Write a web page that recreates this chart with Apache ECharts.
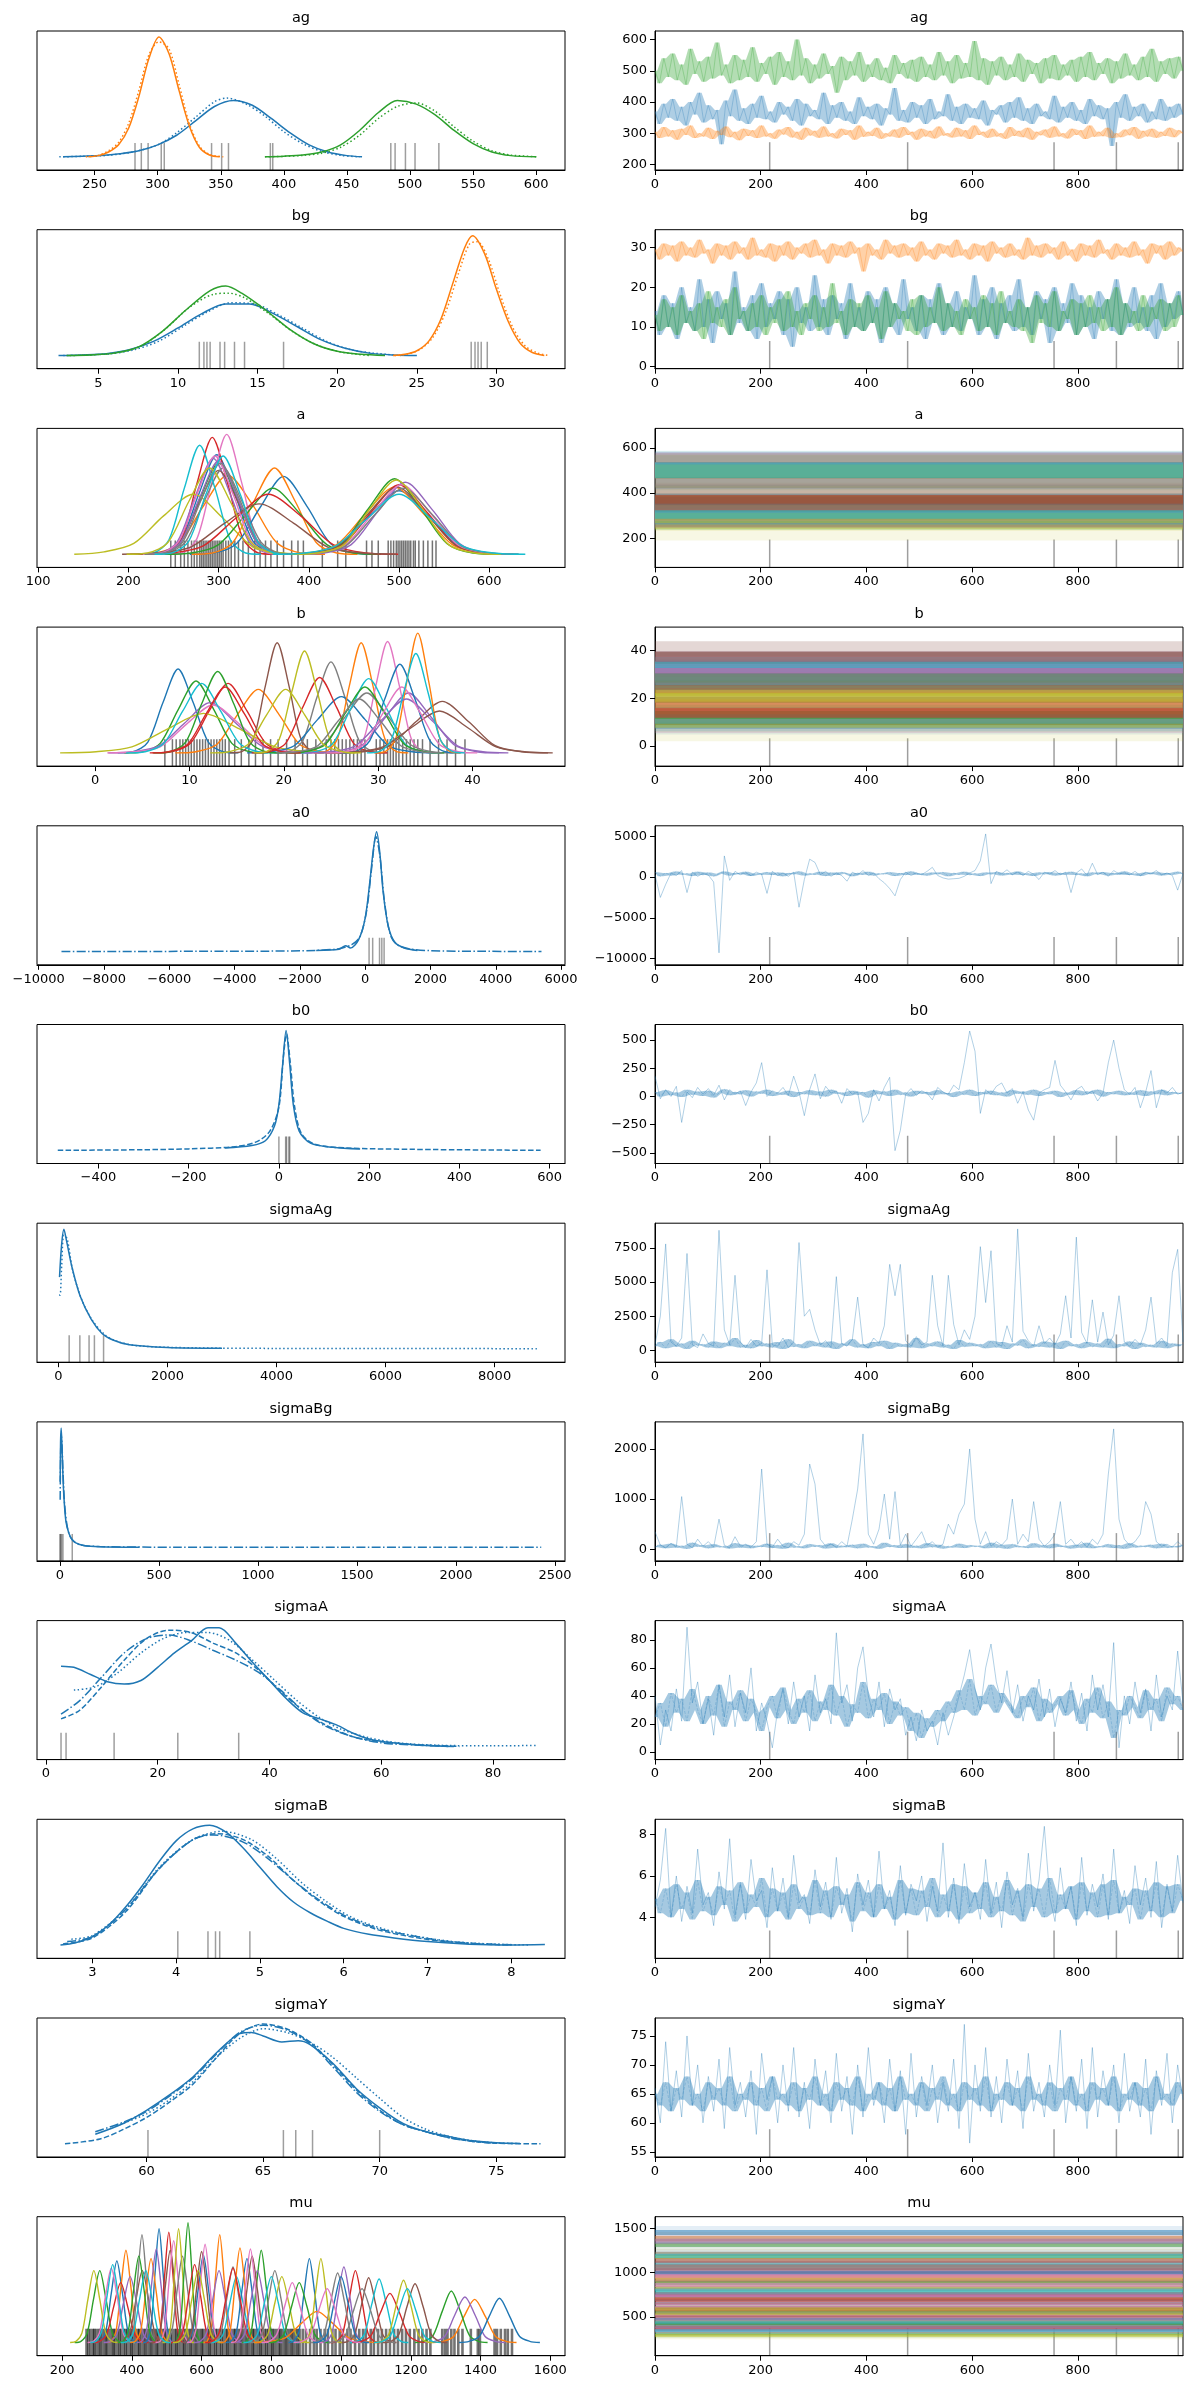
<!DOCTYPE html>
<html>
<head>
<meta charset="utf-8">
<script src="https://cdn.jsdelivr.net/npm/echarts/dist/echarts.min.js"></script>
<style>html,body{margin:0;background:#fff}#chart{width:1189px;height:2390px}</style>
</head>
<body>
<div id="chart"></div>
<script>
// variable order, one row per variable (left: density, right: trace)
const varNames = ['ag', 'bg', 'a', 'b', 'a0', 'b0', 'sigmaAg', 'sigmaBg', 'sigmaA', 'sigmaB', 'sigmaY', 'mu']

// left panels: x range and ticks
const kdeXMin = [204.3, 1.15, 98.7, -6.15, -10050, -536, -393, -116, -1.6, 2.34, 55.3, 128]
const kdeXMax = [622.9, 34.3, 684, 49.8, 6120, 634, 9291, 2550, 92.9, 8.64, 77.95, 1642]
const kdeXTicks = [
  [250, 300, 350, 400, 450, 500, 550, 600], [5, 10, 15, 20, 25, 30], [100, 200, 300, 400, 500, 600],
  [0, 10, 20, 30, 40], [-10000, -8000, -6000, -4000, -2000, 0, 2000, 4000, 6000], [-400, -200, 0, 200, 400, 600],
  [0, 2000, 4000, 6000, 8000], [0, 500, 1000, 1500, 2000, 2500], [0, 20, 40, 60, 80], [3, 4, 5, 6, 7, 8],
  [60, 65, 70, 75], [200, 400, 600, 800, 1000, 1200, 1400, 1600]
]
// right panels: y range and ticks
const traceYMin = [183, -0.5, 71, -8.4, -10770, -594, -874, -233, -5.4, 2.02, 54.1, 62]
const traceYMax = [627, 34.5, 686, 49.8, 6300, 638, 9320, 2540, 93.7, 8.74, 78.1, 1632]
const traceYTicks = [
  [200, 300, 400, 500, 600], [0, 10, 20, 30], [200, 400, 600], [0, 20, 40], [-10000, -5000, 0, 5000],
  [-500, -250, 0, 250, 500], [0, 2500, 5000, 7500], [0, 1000, 2000], [0, 20, 40, 60, 80], [4, 6, 8],
  [55, 60, 65, 70, 75], [500, 1000, 1500]
]
const traceXTicks = [0, 200, 400, 600, 800]
const drawCount = 1000
const divergentDraws = [217, 478, 755, 873, 990]

// densities of ag / bg: per group, chains of [x, density]
const agKde = [
  [[[225,0],[240,0.005],[255,0.01],[270,0.025],[285,0.05],[300,0.1],[315,0.18],[330,0.3],[345,0.42],[360,0.47],[375,0.43],[390,0.32],[405,0.2],[420,0.1],[435,0.04],[450,0.01],[462,0]],
   [[222,0],[240,0.004],[260,0.012],[280,0.04],[300,0.1],[315,0.2],[330,0.33],[345,0.46],[355,0.49],[370,0.44],[385,0.34],[400,0.21],[415,0.11],[430,0.045],[445,0.012],[460,0]]],
  [[[245,0],[253,0.01],[261,0.04],[269,0.1],[277,0.24],[285,0.5],[293,0.82],[301,1.0],[309,0.86],[317,0.55],[325,0.26],[333,0.08],[341,0.015],[349,0]],
   [[243,0],[253,0.012],[261,0.05],[269,0.12],[277,0.28],[285,0.55],[293,0.85],[301,0.96],[309,0.9],[317,0.6],[325,0.28],[333,0.09],[341,0.02],[352,0]]],
  [[[385,0],[400,0.005],[415,0.015],[430,0.04],[445,0.1],[460,0.22],[475,0.37],[490,0.47],[505,0.44],[520,0.35],[535,0.22],[550,0.11],[565,0.04],[580,0.01],[600,0]],
   [[385,0],[400,0.004],[415,0.012],[430,0.03],[445,0.08],[460,0.18],[475,0.32],[490,0.42],[505,0.45],[520,0.38],[535,0.25],[550,0.13],[565,0.05],[580,0.015],[602,0]]]
]
const bgKde = [
  [[[2.5,0],[4,0.005],[5.5,0.015],[7,0.05],[8.5,0.12],[10,0.23],[11.5,0.35],[13,0.43],[14.5,0.43],[16,0.35],[17.5,0.24],[19,0.13],[20.5,0.06],[22,0.02],[23.5,0.005],[25,0]],
   [[2.8,0],[4.3,0.005],[5.8,0.015],[7.3,0.05],[8.8,0.12],[10.3,0.24],[11.8,0.36],[13.3,0.44],[14.8,0.43],[16.3,0.34],[17.8,0.23],[19.3,0.12],[20.8,0.05],[22.3,0.02],[24,0]]],
  [[[23.5,0],[24.25,0.01],[25,0.04],[25.75,0.12],[26.5,0.3],[27.25,0.6],[28,0.9],[28.5,1.0],[29.25,0.85],[30,0.55],[30.75,0.28],[31.5,0.1],[32.25,0.025],[33,0]],
   [[23.6,0],[24.4,0.012],[25.2,0.05],[26,0.15],[26.8,0.36],[27.6,0.68],[28.3,0.93],[28.8,0.95],[29.5,0.8],[30.2,0.52],[31,0.24],[31.8,0.08],[32.6,0.02],[33.3,0]]],
  [[[3,0],[4.5,0.005],[6,0.02],[7.5,0.07],[9,0.2],[10.5,0.38],[12,0.54],[13,0.58],[14,0.52],[15.5,0.38],[17,0.22],[18.5,0.1],[20,0.035],[21.5,0.01],[23,0]],
   [[3.2,0],[4.7,0.006],[6.2,0.025],[7.7,0.08],[9.2,0.22],[10.7,0.4],[12.2,0.51],[13.2,0.52],[14.2,0.48],[15.7,0.35],[17.2,0.2],[18.7,0.09],[20.2,0.03],[22,0]]]
]
// densities of a / b / mu, one row per group: [xStart, xStep, densities...]
const aKde = [
  [218,20,0,.01,.11,.5,.83,.5,.11,.01,0],[202,27,0,.01,.09,.4,.66,.42,.1,.01,0],[216,21,0,.01,.1,.46,.76,.46,.1,.01,0],
  [225,17,0,.01,.13,.59,.975,.59,.13,.01,0],[214,20,0,.01,.1,.48,.8,.48,.1,.01,0],[212,22,0,.01,.09,.42,.7,.43,.1,.01,0],
  [243,16.5,0,.01,.13,.6,1,.6,.13,.01,0],[221,21,0,.01,.1,.44,.72,.44,.1,.01,0],[140,33,0,.02,.09,.32,.5,.3,.06,.01,0],
  [211,17,0,.01,.12,.55,.91,.55,.12,.01,0],[268,26,0,.01,.09,.39,.65,.4,.09,.01,0],[270,23,0,.01,.1,.44,.72,.44,.1,.01,0],
  [240,30,0,.01,.08,.33,.55,.34,.08,.01,0],[211,36,0,.01,.07,.3,.5,.32,.08,.01,0],[216,21,0,.01,.1,.47,.78,.47,.1,.01,0],
  [193,38,0,.01,.06,.26,.42,.26,.06,.01,0],[216,20,0,.01,.11,.5,.82,.5,.11,.01,0],[218,21,0,.01,.1,.46,.76,.46,.1,.01,0],
  [198,23,0,.01,.1,.44,.72,.44,.1,.01,0],[229,19,0,.01,.11,.5,.82,.5,.11,.01,0],[368,33,0,.01,.07,.32,.53,.32,.07,.01,0],
  [367,32,0,.01,.08,.34,.56,.34,.08,.01,0],[379,29,0,.01,.09,.38,.63,.38,.09,.01,0],[376,31,0,.01,.08,.35,.58,.35,.08,.01,0],
  [387,30,0,.01,.08,.36,.6,.37,.09,.01,0],[370,32,0,.01,.08,.34,.56,.34,.08,.01,0],[379,31,0,.01,.08,.35,.58,.35,.08,.01,0],
  [377,32,0,.01,.07,.33,.55,.33,.07,.01,0],[381,29,0,.01,.08,.38,.62,.38,.08,.01,0],[360,35,0,.01,.07,.3,.5,.3,.07,.01,0]
]
const bKde = [
  [2.4,1.6,0,.01,.09,.42,.7,.42,.09,.01,0],[8.5,2.2,0,.01,.07,.32,.53,.32,.07,.01,0],[3.1,1.9,0,.01,.08,.36,.6,.36,.08,.01,0],
  [6.1,2.0,0,.01,.08,.35,.58,.35,.08,.01,0],[1.4,2.7,0,.01,.06,.25,.42,.25,.06,.01,0],[14.3,1.25,0,.01,.12,.56,.92,.56,.12,.01,0],
  [1.3,2.8,0,.01,.05,.24,.4,.24,.05,.01,0],[19,1.5,0,.01,.1,.46,.76,.46,.1,.01,0],[-3.7,3.8,0,.01,.05,.2,.33,.2,.05,.01,0],
  [3.3,2.0,0,.01,.08,.35,.58,.35,.08,.01,0],[16.1,2.5,0,.01,.06,.28,.47,.28,.06,.01,0],[23.2,1.25,0,.01,.12,.56,.92,.56,.12,.01,0],
  [6.2,1.7,0,.01,.09,.41,.68,.41,.09,.01,0],[16.6,1.8,0,.01,.08,.38,.63,.38,.08,.01,0],[23.6,2.4,0,.01,.07,.3,.5,.3,.07,.01,0],
  [25.6,2.8,0,.01,.06,.26,.43,.26,.06,.01,0],[26,1.25,0,.01,.12,.56,.93,.56,.12,.01,0],[19.6,2.3,0,.01,.07,.3,.5,.3,.07,.01,0],
  [16.8,1.35,0,.01,.11,.51,.85,.51,.11,.01,0],[21.4,1.9,0,.01,.08,.37,.62,.37,.08,.01,0],[25.9,1.6,0,.01,.1,.45,.74,.45,.1,.01,0],
  [29.6,1.15,0,.01,.13,.6,1,.6,.13,.01,0],[20.2,2.1,0,.01,.07,.33,.55,.33,.07,.01,0],[5.8,2.0,0,.01,.07,.33,.55,.33,.07,.01,0],
  [22.2,2.7,0,.01,.06,.27,.45,.27,.06,.01,0],[24.5,3.0,0,.01,.05,.21,.35,.21,.05,.01,0],[24.5,2.0,0,.01,.07,.33,.55,.33,.07,.01,0],
  [19.2,2.2,0,.01,.06,.27,.45,.27,.06,.01,0],[12.2,2.0,0,.01,.07,.32,.53,.32,.07,.01,0],[28.8,1.3,0,.01,.11,.5,.83,.5,.11,.01,0]
]
const muKde = [
  [293,16,0,.01,.09,.41,.68,.41,.09,.01,0],[327,14,0,.01,.1,.47,.77,.47,.1,.01,0],[236,18,0,.01,.08,.36,.6,.36,.08,.01,0],
  [288,20,0,.01,.07,.3,.5,.3,.07,.01,0],[319,19,0,.01,.07,.33,.55,.33,.07,.01,0],[358,18,0,.01,.08,.36,.6,.36,.08,.01,0],
  [273,17,0,.01,.08,.38,.62,.38,.08,.01,0],[381,12,0,.01,.12,.55,.9,.55,.12,.01,0],[223,17,0,.01,.08,.36,.6,.36,.08,.01,0],
  [281,16,0,.01,.09,.39,.65,.39,.09,.01,0],[432,11.5,0,.01,.13,.58,.95,.58,.13,.01,0],[395,15,0,.01,.09,.42,.7,.42,.09,.01,0],
  [360,15,0,.01,.1,.44,.72,.44,.1,.01,0],[458,12,0,.01,.12,.56,.92,.56,.12,.01,0],[414,14,0,.01,.1,.47,.78,.47,.1,.01,0],
  [454,14,0,.01,.1,.47,.77,.47,.1,.01,0],[468,13,0,.01,.11,.52,.85,.52,.11,.01,0],[485,15,0,.01,.1,.44,.72,.44,.1,.01,0],
  [488,11.5,0,.01,.13,.58,.95,.58,.13,.01,0],[368,18,0,.01,.08,.36,.6,.36,.08,.01,0],[545,15,0,.01,.1,.44,.73,.44,.1,.01,0],
  [604,12,0,.01,.12,.55,.9,.55,.12,.01,0],[517,11,0,.01,.13,.6,1,.6,.13,.01,0],[512,17,0,.01,.09,.39,.65,.39,.09,.01,0],
  [578,18,0,.01,.08,.36,.6,.36,.08,.01,0],[544,14,0,.01,.1,.46,.76,.46,.1,.01,0],[558,13,0,.01,.11,.5,.82,.5,.11,.01,0],
  [622,17,0,.01,.09,.38,.63,.38,.09,.01,0],[518,18,0,.01,.08,.36,.6,.36,.08,.01,0],[624,19,0,.01,.07,.33,.55,.33,.07,.01,0],
  [670,15,0,.01,.09,.42,.7,.42,.09,.01,0],[654,14,0,.01,.1,.48,.79,.48,.1,.01,0],[715,14,0,.01,.1,.47,.77,.47,.1,.01,0],
  [610,20,0,.01,.08,.37,.62,.37,.08,.01,0],[688,18,0,.01,.08,.36,.6,.36,.08,.01,0],[685,15,0,.01,.1,.44,.72,.44,.1,.01,0],
  [684,14,0,.01,.1,.47,.78,.47,.1,.01,0],[738,18,0,.01,.08,.36,.6,.36,.08,.01,0],[750,20,0,.01,.07,.33,.55,.33,.07,.01,0],
  [720,20,0,.01,.07,.33,.55,.33,.07,.01,0],[849,15,0,.01,.09,.42,.7,.42,.09,.01,0],[751,45,0,.01,.04,.16,.26,.16,.04,.01,0],
  [792,22,0,.01,.07,.3,.5,.3,.07,.01,0],[969,18,0,.01,.08,.36,.6,.36,.08,.01,0],[940,17,0,.01,.08,.38,.63,.38,.08,.01,0],
  [999,20,0,.01,.07,.32,.54,.32,.07,.01,0],[772,22,0,.01,.07,.3,.5,.3,.07,.01,0],[914,19,0,.01,.08,.35,.58,.35,.08,.01,0],
  [882,15,0,.01,.09,.42,.7,.42,.09,.01,0],[1025,21,0,.01,.07,.32,.53,.32,.07,.01,0],[920,20,0,.01,.07,.33,.55,.33,.07,.01,0],
  [1263,30,0,.01,.05,.22,.36,.22,.05,.01,0],[1212,26,0,.01,.06,.26,.43,.26,.06,.01,0],[1032,27,0,.01,.06,.25,.41,.25,.06,.01,0],
  [1239,29,0,.01,.05,.23,.38,.23,.05,.01,0],[1120,23,0,.01,.07,.3,.49,.3,.07,.01,0],[864,24,0,.01,.06,.27,.45,.27,.06,.01,0],
  [964,24,0,.01,.06,.27,.45,.27,.06,.01,0],[1095,21,0,.01,.07,.31,.52,.31,.07,.01,0],[1094,24,0,.01,.06,.27,.45,.27,.06,.01,0],
  [1338,29,0,.01,.05,.22,.37,.22,.05,.01,0]
]
// densities of the scalar variables, one [x, density] list per chain
const a0Kde = [
  [[-1500,0.01],[-800,0.02],[-600,0.05],[-450,0.03],[-200,0.1],[0,0.28],[150,0.6],[250,0.85],[350,1.0],[450,0.82],[550,0.5],[700,0.22],[900,0.08],[1200,0.03],[1600,0.01]],
  [[-9300,0],[-6000,0.002],[-3000,0.004],[-1500,0.01],[-800,0.025],[-400,0.06],[-150,0.13],[50,0.35],[200,0.7],[330,0.96],[450,0.8],[600,0.4],[800,0.12],[1100,0.04],[2000,0.008],[3500,0.003],[5400,0]]
]
const b0Kde = [
  [[-120,0.02],[-60,0.04],[-30,0.08],[-10,0.2],[0,0.38],[8,0.7],[16,1.0],[24,0.72],[32,0.38],[45,0.16],[70,0.06],[120,0.025],[180,0.01]],
  [[-490,0],[-300,0.005],[-200,0.012],[-100,0.03],[-50,0.07],[-20,0.16],[0,0.36],[10,0.78],[17,0.97],[25,0.74],[35,0.36],[50,0.14],[80,0.05],[150,0.02],[300,0.008],[580,0]]
]
const sigmaAgKde = [
  [[20,0.6],[60,0.88],[100,1.0],[150,0.9],[250,0.68],[400,0.44],[600,0.25],[800,0.13],[1000,0.075],[1300,0.035],[2000,0.012],[3000,0.006]],
  [[10,0.45],[30,0.45],[60,0.7],[100,0.95],[160,0.92],[260,0.66],[420,0.42],[620,0.24],[850,0.12],[1100,0.06],[1500,0.025],[2500,0.01],[4000,0.005],[6000,0.004],[8800,0.003]]
]
const sigmaBgKde = [
  [[1,0.55],[3,0.88],[6,1.0],[10,0.85],[15,0.6],[20,0.42],[30,0.22],[45,0.12],[60,0.07],[80,0.04],[120,0.018],[200,0.008],[400,0.004]],
  [[1,0.4],[3,0.75],[6,0.95],[10,0.87],[16,0.6],[25,0.33],[40,0.15],[60,0.07],[100,0.025],[200,0.01],[600,0.004],[1200,0.003],[2430,0.003]]
]
const sigmaAKde = [
  [[2.7,0.67],[5,0.66],[8,0.6],[11,0.54],[14,0.52],[17,0.55],[20,0.66],[23,0.78],[26,0.88],[29,0.99],[31,0.99],[34,0.86],[37,0.7],[40,0.55],[43,0.4],[46,0.28],[49,0.23],[52,0.18],[55,0.11],[58,0.06],[62,0.03],[67,0.01],[73,0]],
  [[2.7,0.23],[6,0.3],[10,0.5],[14,0.72],[18,0.9],[22,0.97],[26,0.95],[30,0.86],[34,0.78],[38,0.64],[42,0.46],[46,0.3],[50,0.18],[55,0.08],[60,0.04],[66,0.015],[74,0]],
  [[5,0.47],[9,0.5],[13,0.62],[17,0.78],[21,0.9],[25,0.95],[29,0.95],[33,0.88],[37,0.72],[41,0.55],[45,0.38],[49,0.24],[53,0.14],[58,0.07],[63,0.03],[70,0.01],[80,0.005],[88,0.008]],
  [[2.7,0.27],[6,0.38],[10,0.58],[14,0.78],[18,0.9],[22,0.93],[26,0.88],[30,0.8],[34,0.72],[38,0.62],[42,0.47],[46,0.3],[50,0.17],[55,0.08],[60,0.03],[66,0.012],[72,0]]
]
const sigmaBKde = [
  [[2.62,0],[2.8,0.02],[3.0,0.07],[3.2,0.17],[3.4,0.32],[3.6,0.5],[3.8,0.7],[4.0,0.87],[4.2,0.97],[4.4,1.0],[4.6,0.94],[4.8,0.81],[5.0,0.65],[5.2,0.49],[5.4,0.36],[5.6,0.27],[5.8,0.2],[6.0,0.14],[6.3,0.09],[6.6,0.06],[7.0,0.03],[7.5,0.008],[8.0,0.002],[8.4,0.006]],
  [[2.65,0.01],[3.0,0.06],[3.4,0.28],[3.8,0.64],[4.2,0.88],[4.5,0.93],[4.8,0.88],[5.1,0.74],[5.4,0.54],[5.7,0.37],[6.0,0.24],[6.4,0.13],[6.8,0.07],[7.2,0.03],[7.6,0.01],[8.0,0.002]],
  [[2.75,0.05],[3.0,0.08],[3.4,0.3],[3.8,0.65],[4.2,0.88],[4.55,0.95],[4.9,0.88],[5.2,0.72],[5.5,0.52],[5.8,0.36],[6.1,0.23],[6.5,0.13],[6.9,0.07],[7.3,0.03],[7.8,0.008],[8.2,0.002]],
  [[2.7,0.03],[3.0,0.07],[3.4,0.3],[3.8,0.64],[4.2,0.88],[4.45,0.92],[4.8,0.86],[5.1,0.72],[5.4,0.54],[5.7,0.38],[6.0,0.25],[6.4,0.14],[6.8,0.08],[7.2,0.035],[7.6,0.012],[8.0,0.003]]
]
const sigmaYKde = [
  [[57.8,0.08],[59,0.17],[60,0.28],[61,0.41],[62,0.56],[63,0.76],[64,0.92],[64.5,0.93],[65,0.9],[65.8,0.85],[66.5,0.86],[67,0.83],[68,0.67],[69,0.46],[70,0.3],[71,0.17],[72,0.1],[73,0.06],[74,0.025],[75,0.008],[76,0.002]],
  [[56.5,0],[58,0.04],[59,0.12],[60,0.22],[61,0.35],[62,0.5],[63,0.72],[64,0.92],[65,1.0],[66,0.96],[67,0.85],[68,0.66],[69,0.45],[70,0.28],[71,0.16],[72,0.1],[73,0.05],[74,0.02],[75,0.005],[76.9,0]],
  [[58.7,0.15],[60,0.25],[61,0.37],[62,0.52],[63,0.72],[64,0.88],[65,0.96],[66,0.93],[67,0.85],[68,0.72],[69,0.55],[70,0.38],[71,0.22],[72,0.12],[73,0.06],[74,0.025],[75,0.008],[76,0.002]],
  [[57.8,0.1],[59,0.18],[60,0.27],[61,0.4],[62,0.55],[63,0.75],[64,0.93],[65,0.99],[66,0.95],[67,0.84],[68,0.64],[69,0.43],[70,0.27],[71,0.16],[72,0.1],[73,0.05],[74,0.02],[75,0.005]]
]

// values at the divergent draws (rug under each density)
const agRug = [282, 287, 292.4, 302.8, 305.2, 342.7, 350.7, 356.1, 389.3, 391.2, 484.8, 488.2, 496.4, 504, 522.9]
const bgRug = [11.34, 11.63, 11.82, 12.02, 12.64, 12.93, 13.55, 14.18, 16.63, 28.41, 28.65, 28.84, 29.04, 29.42]
const aRug = [247, 252, 258, 262, 266, 270, 273, 276, 279, 281, 283, 285, 287, 289, 291, 293, 295, 297, 299, 301, 303, 305, 308, 311, 314, 318, 322, 327, 333, 340, 346, 352, 358, 365, 372, 381, 388, 394, 415, 432, 441, 464, 470, 477, 488, 491, 494, 497, 499, 501, 503, 505, 507, 509, 511, 513, 516, 518, 522, 527, 532, 537, 541]
const bRug = [7.4, 8.2, 8.6, 9.0, 9.3, 9.6, 9.9, 10.2, 10.5, 10.8, 11.1, 11.4, 11.7, 12.0, 12.3, 12.6, 12.9, 13.2, 13.5, 13.8, 14.2, 14.8, 15.5, 16.3, 17.0, 17.8, 18.6, 19.4, 20.3, 21.2, 22.0, 22.5, 23.4, 24.5, 25.0, 25.4, 25.8, 26.2, 26.6, 27.0, 27.4, 27.8, 28.2, 28.6, 29.8, 30.2, 30.6, 31.0, 31.3, 31.6, 31.9, 32.2, 32.6, 33.0, 33.4, 33.8, 34.2, 34.7, 35.5, 36.4, 37.3, 38.2, 39.2]
const a0Rug = [120, 230, 440, 510, 580]
const b0Rug = [0, 15, 17, 22, 24]
const sigmaAgRug = [197, 393, 562, 660, 828]
const sigmaBgRug = [0, 3, 8, 15, 62]
const sigmaARug = [2.7, 3.6, 12.2, 23.6, 34.5]
const sigmaBRug = [4.02, 4.38, 4.47, 4.52, 4.88]
const sigmaYRug = [60.06, 65.87, 66.4, 67.12, 70.0]
const muRug = [270, 275, 281, 288, 292, 297, 304, 309, 314, 321, 326, 330, 337, 344, 348, 353, 360, 365, 370, 377, 382, 387, 394, 399, 403, 410, 417, 421, 426, 433, 438, 443, 450, 455, 460, 467, 472, 476, 483, 490, 494, 499, 506, 511, 516, 523, 528, 532, 539, 546, 550, 555, 562, 568, 572, 579, 584, 589, 596, 601, 605, 612, 619, 623, 628, 635, 640, 645, 652, 657, 662, 669, 674, 678, 685, 692, 696, 701, 708, 713, 718, 725, 730, 735, 742, 747, 751, 758, 765, 769, 774, 781, 786, 791, 798, 803, 807, 814, 821, 825, 830, 837, 842, 847, 854, 859, 864, 871, 876, 881, 890, 899, 911, 922, 930, 941, 953, 962, 975, 984, 996, 1005, 1018, 1027, 1040, 1052, 1063, 1071, 1085, 1094, 1106, 1117, 1129, 1140, 1152, 1163, 1175, 1186, 1197, 1210, 1222, 1233, 1245, 1256, 1290, 1298, 1305, 1316, 1325, 1336, 1348, 1372, 1392, 1398, 1440, 1447, 1458, 1470, 1478, 1490]

// trace samples (thinned), one list per group for ag / bg
const agTrace = [
  [370,330,395,350,410,340,385,325,400,360,430,335,390,345,375,265,405,355,440,340,380,330,395,350,420,345,370,335,400,360,385,340,410,325,395,355,375,345,430,330,390,350,400,340,370,330,415,355,385,345,395,325,380,360,445,340,375,335,400,350,390,330,410,345,370,355,425,340,385,330,395,350,380,345,405,325,375,360,390,335,400,350,415,340,380,330,395,355,370,345,420,335,385,350,400,340,375,330,410,355,390,345,380,260,400,350,425,340,385,355,395,335,370,345,410,340,385,350,395,360],
  [305,285,320,290,310,280,315,295,325,285,300,290,318,282,308,295,322,288,305,278,315,292,310,285,325,290,300,283,312,296,320,287,305,280,318,293,308,286,322,290,300,284,315,295,310,280,325,289,305,292,318,283,300,290,312,286,320,295,305,280,315,290,308,284,322,293,300,287,318,290,310,282,325,295,305,286,315,290,300,283,320,292,308,288,318,280,305,294,312,286,322,290,300,284,315,295,310,282,325,289,305,291,318,285,300,288,312,294,320,283,308,290,315,286,305,292,318,288,310,300],
  [500,460,540,480,555,470,520,455,570,490,530,465,545,475,590,485,520,460,550,470,535,480,575,465,525,490,545,455,560,480,530,470,600,485,540,460,520,475,555,490,515,430,545,470,530,485,560,465,520,480,540,470,510,460,550,490,525,475,535,465,545,480,520,470,560,485,530,460,550,475,525,480,595,470,540,455,530,485,545,470,520,480,555,465,535,490,525,460,540,475,550,470,520,485,535,465,545,480,560,470,525,490,540,460,530,475,555,485,520,470,545,480,570,465,530,490,540,475,545,500]
]
const bgTrace = [
  [14,8,18,10,16,7,20,11,15,9,22,10,17,6,19,12,16,8,24,11,15,9,18,7,21,10,16,12,19,8,17,5,20,11,15,9,23,10,17,8,18,12,16,7,21,10,15,9,19,11,17,6,20,10,16,8,22,12,15,9,18,7,17,11,21,8,16,10,19,9,15,12,23,8,17,10,20,7,16,11,18,9,22,10,15,8,19,12,17,6,20,9,16,11,21,8,18,10,15,7,19,12,17,9,22,8,16,10,20,11,15,9,18,7,21,10,16,12,19,13],
  [29.5,27,31,28,30.5,26.5,31.5,28,30,27.5,32,28.5,29.5,26,31,28,30.5,27,31.5,28.5,30,27,32.5,28,29.5,27.5,31,26.5,30.5,28,31.5,27,30,28.5,31,27.5,32,28,29.5,26,31,28,30.5,27.5,31.5,28.5,30,24,31,28,29.5,27,32,28.5,30.5,27.5,31,28,30,26.5,31.5,28,29.5,27,31,28.5,30.5,27.5,32,28,29.5,27,31,28,30.5,26.5,31.5,28.5,30,27.5,31,28,29.5,27,32.5,28,30.5,27.5,31,28.5,30,27,31.5,28,29.5,26.5,31,28,30.5,27.5,32,28.5,29.5,27,31,28,30,27.5,31.5,28,29.5,26,31,28.5,30.5,27,31.5,28,30,29],
  [13,9,17,10,15,8,18,11,14,9,16,7,19,11,15,10,17,8,20,12,14,9,16,10,18,8,15,11,17,9,19,10,14,8,16,12,18,9,15,10,21,11,14,8,17,10,16,9,18,11,15,7,19,10,16,12,14,9,17,8,18,10,15,11,20,9,16,10,14,8,17,12,15,9,18,10,16,8,19,11,14,10,17,9,15,6,18,11,16,10,19,9,14,12,17,8,16,10,18,11,15,9,17,10,20,8,16,11,14,9,18,10,15,12,17,9,16,10,18,13]
]
// trace samples (thinned), two chains each for the scalar variables
const a0Trace = [
  [300,-2500,-900,500,200,800,-1900,600,100,450,250,-600,-9300,2600,-400,700,300,500,200,600,350,-2000,700,200,500,100,600,-3700,-300,2200,1800,300,700,100,500,200,-500,600,300,800,200,500,-200,-700,-1400,-2300,-300,600,200,500,300,700,1200,200,-100,-250,-200,-150,100,500,800,2000,5300,-800,700,400,900,300,600,200,700,350,-300,600,400,800,300,600,-1900,500,1000,200,1700,300,600,100,800,400,500,300,700,200,600,400,800,300,500,200,-1600,400],
  [600,100,500,200,700,300,450,150,650,250,550,100,400,700,200,500,350,650,150,450,300,600,250,550,100,500,350,700,200,450,300,650,150,550,250,600,400,100,500,300,650,200,450,350,600,150,500,250,700,300,450,200,550,350,600,100,500,300,650,250,450,150,550,350,600,200,500,300,700,250,450,150,550,350,600,200,500,300,650,250,450,100,550,350,600,200,500,300,700,250,450,150,550,350,600,200,500,300,650,400]
]
const b0Trace = [
  [180,-20,60,0,90,-230,40,-10,80,20,70,10,100,-30,60,20,50,-80,40,120,300,0,50,30,80,10,180,40,-170,60,200,-20,90,30,50,-60,70,20,40,-230,-150,60,-40,80,170,-480,-300,20,70,10,50,30,-30,80,40,20,100,60,300,580,400,-150,60,20,90,120,30,70,-60,40,-120,-210,30,60,80,320,100,40,-30,60,90,20,50,-40,30,300,500,250,60,20,80,-100,40,230,-100,60,30,80,20,40],
  [40,0,55,10,35,-5,60,15,45,5,50,-10,30,65,10,40,20,55,0,45,25,60,5,35,15,50,-5,40,20,55,10,45,0,60,25,35,5,50,15,40,-10,55,20,45,5,60,15,35,0,50,25,40,10,55,20,30,-5,45,15,60,5,40,20,50,10,35,0,55,25,45,15,60,5,40,20,50,-5,35,15,55,10,45,25,60,0,40,20,50,10,35,15,55,5,45,20,60,10,40,25,30]
]
const sigmaAgTrace = [
  [400,2500,7800,600,300,900,7100,400,200,1200,500,300,8800,1500,400,5500,600,200,800,300,500,5900,400,300,900,200,600,7900,2500,3000,1500,400,700,200,5400,500,300,800,3900,400,200,900,500,1800,6300,4000,6300,700,300,1000,400,600,5500,1800,300,5500,1900,400,1500,800,2500,7600,3500,7300,500,300,1800,600,8900,1400,700,300,1800,500,900,400,1200,4000,900,8300,1300,500,3700,600,2800,400,1100,4000,600,300,800,400,1500,3900,500,900,300,5700,7400,600],
  [300,600,150,800,250,500,100,700,350,450,200,650,150,550,300,900,200,400,150,750,300,500,200,600,100,800,250,450,150,700,300,550,200,650,100,500,350,800,200,450,150,600,300,700,100,550,250,450,200,900,150,500,300,650,200,400,100,750,250,550,300,450,150,700,200,600,100,500,350,800,150,450,250,650,200,550,100,700,300,450,150,600,250,500,200,850,150,450,300,650,100,550,250,400,200,700,150,500,300,450]
]
const sigmaBgTrace = [
  [350,80,30,120,50,1050,100,30,200,60,150,40,600,80,30,250,60,100,40,150,1600,100,40,200,60,30,150,80,300,1700,1300,200,60,100,40,150,60,600,1200,2300,300,100,400,1100,200,1150,80,300,60,200,350,80,150,40,100,500,300,700,900,2000,600,100,350,60,150,80,200,1000,100,300,150,950,200,60,150,300,950,100,200,60,150,40,200,100,300,1500,2400,600,200,80,150,300,950,700,150,60,100,40,150,60],
  [40,90,20,110,30,70,10,130,50,80,20,100,40,60,15,120,30,90,20,70,45,110,25,80,10,130,35,60,20,100,50,80,15,120,30,70,40,90,20,110,35,60,10,130,45,80,25,100,30,70,20,120,40,90,15,60,35,110,25,80,50,70,20,130,30,90,10,100,40,60,25,120,35,80,20,110,45,70,15,90,30,130,20,60,40,100,25,80,10,120,35,70,45,90,20,110,30,60,40,80]
]
const sigmaATrace = [
  [40,5,30,15,45,22,89,35,50,20,38,12,48,25,55,18,42,28,60,15,35,22,3,30,45,20,50,25,40,15,55,28,38,20,85,35,48,22,60,75,40,25,50,18,45,30,38,12,25,8,30,15,22,5,28,12,25,40,55,73,45,30,60,77,50,35,58,28,48,22,40,30,52,25,45,18,38,28,50,22,42,15,55,30,48,25,78,3,40,20,50,28,45,15,55,25,40,30,72,35],
  [25,35,18,42,28,38,22,45,30,20,40,26,48,18,36,30,44,22,38,28,15,32,40,24,46,30,20,38,28,44,22,36,30,48,26,40,18,34,28,50,24,38,30,42,20,36,26,32,15,28,10,24,18,30,22,36,28,44,30,52,26,40,34,48,28,42,36,30,24,40,32,46,22,38,28,34,40,26,44,30,20,38,28,46,24,36,10,30,26,40,32,24,44,30,38,22,46,34,40,30]
]
const sigmaBTrace = [
  [4.5,5.8,8.3,4.0,6.0,3.8,5.5,4.2,7.3,4.6,5.2,3.6,6.2,4.4,7.8,4.1,5.6,3.9,6.8,4.8,5.3,3.5,6.4,4.3,5.9,4.0,7.0,4.7,5.1,3.7,6.3,4.5,5.7,3.9,6.9,4.2,5.4,3.3,6.1,4.6,5.8,4.0,7.2,4.4,5.3,3.6,6.5,4.1,5.6,4.8,6.0,3.8,5.5,4.3,7.6,4.0,5.9,3.7,6.6,4.5,5.2,3.9,6.8,4.2,5.7,3.5,6.2,4.6,5.4,4.0,7.1,4.3,5.8,8.4,5.0,3.8,6.4,4.4,5.5,3.6,6.9,4.1,5.6,4.5,6.1,3.9,7.3,4.2,5.3,3.7,6.5,4.6,5.9,4.0,6.7,3.5,5.6,4.3,7.0,4.7],
  [4.9,4.2,5.4,4.0,5.6,4.4,5.2,3.9,5.8,4.3,5.0,4.1,5.5,4.6,5.3,3.8,5.7,4.2,5.1,4.5,5.9,4.0,5.4,4.3,5.2,3.9,5.6,4.4,5.0,4.1,5.8,4.2,5.3,4.0,5.5,4.6,5.1,3.8,5.7,4.3,5.2,4.0,5.6,4.4,5.0,3.9,5.8,4.2,5.4,4.1,5.3,4.5,5.9,4.0,5.1,4.3,5.6,3.9,5.5,4.2,5.2,4.4,5.7,4.0,5.0,4.3,5.8,4.1,5.3,3.8,5.6,4.5,5.4,4.0,5.9,4.2,5.1,4.4,5.5,3.9,5.7,4.3,5.2,4.0,5.6,4.1,5.8,4.2,5.0,4.6,5.4,3.9,5.3,4.3,5.7,4.0,5.5,4.2,5.6,4.8]
]
const sigmaYTrace = [
  [66,60,74,62,69,61,75,63,70,60,68,62,71,59,73,63,67,61,69,58,72,64,68,60,70,62,73,61,67,59,71,63,69,60,72,62,68,58,70,61,73,63,67,60,71,62,69,58,72,61,68,63,70,60,67,62,71,59,77,56.5,70,62,73,61,68,60,71,63,69,59,72,62,67,61,70,63,76,60,68,62,71,59,73,61,69,63,70,60,72,62,67,61,71,58,69,63,72,60,70,64],
  [65,63,67,62,66,64,68,63,65,62,67,64,66,63,68,62,65,64,67,63,66,62,68,64,65,63,67,62,66,64,68,63,65,62,67,64,66,63,68,62,65,64,67,63,66,62,68,64,65,63,67,62,66,64,68,63,65,62,67,64,66,63,68,62,65,64,67,63,66,62,68,64,65,63,67,62,66,64,68,63,65,62,67,64,66,63,68,62,65,64,67,63,66,62,68,64,65,63,67,65]
]

const palette = ['#1f77b4', '#ff7f0e', '#2ca02c', '#d62728', '#9467bd', '#8c564b', '#e377c2', '#7f7f7f', '#bcbd22', '#17becf']
const chainDash = ['solid', [5.5, 2.4], [1.5, 2.5], [9, 2.4, 1.5, 2.4]]
const font = 'DejaVu Sans'
const leftX = 37
const rightX = 655
const boxW = 528
const boxH = 139
const rowTop = r => 31 + 198.7 * r

const chart = echarts.init(document.getElementById('chart'))
const grids = []
const xAxes = []
const yAxes = []
const series = []
const titles = []

const minusFmt = v => String(v).replace('-', '\u2212')
function axisLook(ticks) {
  return {
    axisLine: { show: true, onZero: false, lineStyle: { color: '#000', width: 1 } },
    splitLine: { show: false },
    axisTick: { show: true, customValues: ticks, length: 5, lineStyle: { color: '#000', width: 1 } },
    axisLabel: { customValues: ticks, formatter: minusFmt, color: '#000', fontSize: 13, fontFamily: font, margin: 8 }
  }
}

varNames.forEach((name, r) => {
  const top = rowTop(r)
  ;[leftX, rightX].forEach(left => {
    grids.push({ left, top, width: boxW, height: boxH, show: true, borderColor: '#000', borderWidth: 1, backgroundColor: 'transparent' })
    titles.push({
      type: 'text', x: left + boxW / 2, y: top - 13,
      style: { text: name, align: 'center', verticalAlign: 'middle', textAlign: 'center', textVerticalAlign: 'middle', fontSize: 14.5, fontFamily: font, fill: '#000' }
    })
  })
  xAxes.push({ gridIndex: 2 * r, type: 'value', min: kdeXMin[r], max: kdeXMax[r], ...axisLook(kdeXTicks[r]) })
  yAxes.push({ gridIndex: 2 * r, type: 'value', min: -0.11, max: 1.05, show: false })
  xAxes.push({ gridIndex: 2 * r + 1, type: 'value', min: 0, max: drawCount - 1, ...axisLook(traceXTicks) })
  yAxes.push({ gridIndex: 2 * r + 1, type: 'value', min: traceYMin[r], max: traceYMax[r], ...axisLook(traceYTicks[r]) })
})

function curve(gi, pts, color, dash, width) {
  return {
    type: 'line', xAxisIndex: gi, yAxisIndex: gi, data: pts, showSymbol: false, symbol: 'none',
    smooth: 0.3, silent: true, animation: false, z: 3,
    lineStyle: { color, width: width || 1.5, type: dash || 'solid' }
  }
}
const unpack = rows => rows.map(row => row.slice(2).map((y, k) => [row[0] + k * row[1], y]))

function trace(gi, vals, color, dash, opacity) {
  const step = (drawCount - 1) / (vals.length - 1)
  return {
    type: 'line', xAxisIndex: gi, yAxisIndex: gi, data: vals.map((v, i) => [i * step, v]),
    showSymbol: false, symbol: 'none', silent: true, animation: false, z: 3,
    lineStyle: { color, width: 0.7, opacity: opacity || 0.4, type: dash || 'solid' }
  }
}

// filled envelope of a thinned trace: upper edge through local maxima, lower through local minima
function band(gi, vals, color, opacity) {
  const step = (drawCount - 1) / (vals.length - 1)
  return {
    type: 'custom', xAxisIndex: gi, yAxisIndex: gi, silent: true, clip: true, animation: false, z: 2,
    data: [[0, vals[0]]],
    renderItem(params, api) {
      const upper = [api.coord([0, vals[0]])]
      const lower = [api.coord([0, vals[0]])]
      for (let i = 0; i < vals.length - 1; i++) {
        const x = (i + 0.5) * step
        upper.push(api.coord([x, Math.max(vals[i], vals[i + 1])]))
        lower.push(api.coord([x, Math.min(vals[i], vals[i + 1])]))
      }
      upper.push(api.coord([drawCount - 1, vals[vals.length - 1]]))
      return { type: 'polygon', shape: { points: upper.concat(lower.reverse()) }, style: { fill: color, opacity } }
    }
  }
}

function rug(gi, values, lo, hi, width, color) {
  return {
    type: 'custom', xAxisIndex: gi, yAxisIndex: gi, silent: true, clip: true, animation: false, z: 1,
    data: values.map(v => [v, lo]),
    renderItem(params, api) {
      const a = api.coord([api.value(0), lo])
      const b = api.coord([api.value(0), hi])
      return { type: 'line', shape: { x1: a[0], y1: a[1], x2: b[0], y2: b[1] }, style: { stroke: color, lineWidth: width } }
    }
  }
}

// trace of many groups: each group shown as the spread of its density (wide light, narrow dark)
function stripes(gi, rows) {
  return {
    type: 'custom', xAxisIndex: gi, yAxisIndex: gi, silent: true, clip: true, animation: false, z: 2,
    data: rows.map((row, i) => [row[0] + 1.5 * row[1], row[0] + 6.5 * row[1], row[0] + 3 * row[1], row[0] + 5 * row[1], i]),
    renderItem(params, api) {
      const fill = palette[api.value(4) % 10]
      const rect = (lo, hi, opacity) => {
        const a = api.coord([0, hi])
        const b = api.coord([drawCount - 1, lo])
        return { type: 'rect', shape: { x: a[0], y: a[1], width: b[0] - a[0], height: b[1] - a[1] }, style: { fill, opacity } }
      }
      return { type: 'group', children: [rect(api.value(0), api.value(1), 0.12), rect(api.value(2), api.value(3), 0.5)] }
    }
  }
}

const kdeRug = (r, values, width, color) => rug(2 * r, values, -0.11, 0.115, width || 1.5, color || 'rgba(0,0,0,0.38)')
const divRug = r => rug(2 * r + 1, divergentDraws, traceYMin[r], traceYMin[r] + 0.2 * (traceYMax[r] - traceYMin[r]), 1.5, 'rgba(0,0,0,0.38)')

// grouped rows: ag, bg
;[[0, agKde, agTrace, agRug], [1, bgKde, bgTrace, bgRug]].forEach(([r, kde, tr, rg]) => {
  series.push(kdeRug(r, rg))
  kde.forEach((chains, g) => chains.forEach((pts, c) => series.push(curve(2 * r, pts, palette[g], chainDash[c === 0 ? 0 : c + 1]))))
  tr.forEach((vals, g) => {
    series.push(band(2 * r + 1, vals, palette[g], 0.36))
    series.push(trace(2 * r + 1, vals, palette[g], 'solid', 0.4))
  })
  series.push(divRug(r))
})

// many groups: a, b, mu
;[[2, aKde, aRug, 1.5], [3, bKde, bRug, 1.5], [11, muKde, muRug, 2.6]].forEach(([r, rows, rg, w]) => {
  series.push(kdeRug(r, rg, w, 'rgba(0,0,0,0.55)'))
  unpack(rows).forEach((pts, i) => series.push(curve(2 * r, pts, palette[i % 10], 'solid', 1.4)))
  series.push(stripes(2 * r + 1, rows))
  series.push(divRug(r))
})

// scalar variables; fillOpacity per chain (0 = line only)
const scalarRows = [
  [4, a0Kde, a0Trace, a0Rug, [0, 3], [0, 0.4]], [5, b0Kde, b0Trace, b0Rug, [0, 1], [0, 0.4]],
  [6, sigmaAgKde, sigmaAgTrace, sigmaAgRug, [0, 2], [0, 0.4]], [7, sigmaBgKde, sigmaBgTrace, sigmaBgRug, [0, 3], [0, 0.4]],
  [8, sigmaAKde, sigmaATrace, sigmaARug, [0, 1, 2, 3], [0, 0.4]], [9, sigmaBKde, sigmaBTrace, sigmaBRug, [0, 1, 2, 3], [0, 0.4]],
  [10, sigmaYKde, sigmaYTrace, sigmaYRug, [0, 1, 2, 3], [0, 0.4]]
]
scalarRows.forEach(([r, kde, tr, rg, dashes, fills]) => {
  series.push(kdeRug(r, rg))
  kde.forEach((pts, c) => series.push(curve(2 * r, pts, palette[0], chainDash[dashes[c]])))
  tr.forEach((vals, c) => {
    if (fills[c] > 0) series.push(band(2 * r + 1, vals, palette[0], fills[c]))
    series.push(trace(2 * r + 1, vals, palette[0], c === 0 ? 'solid' : [3, 1.5], fills[c] > 0 ? 0.35 : 0.5))
  })
  series.push(divRug(r))
})

chart.setOption({
  animation: false,
  backgroundColor: '#fff',
  textStyle: { fontFamily: font },
  grid: grids,
  xAxis: xAxes,
  yAxis: yAxes,
  graphic: titles,
  series
})
</script>
</body>
</html>
